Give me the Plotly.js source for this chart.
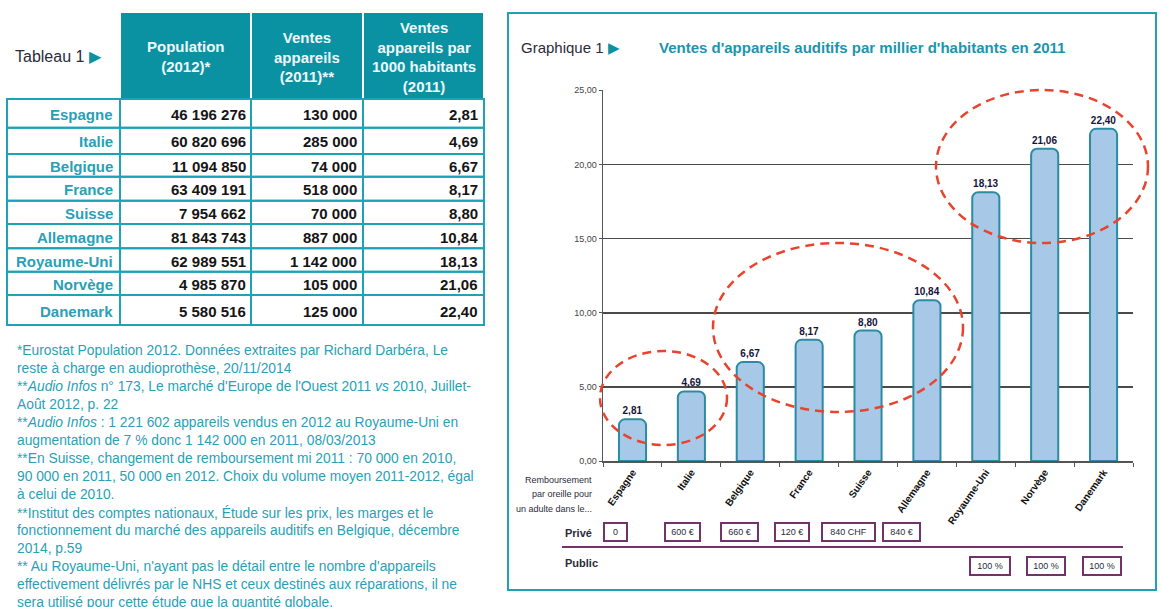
<!DOCTYPE html>
<html>
<head>
<meta charset="utf-8">
<script src="https://cdn.plot.ly/plotly-3.0.1.min.js"></script>
<style>html,body{margin:0;padding:0;background:#fff;}#chart{width:1161px;height:607px;}</style>
</head>
<body>
<div id="chart"></div>
<script>
// ---------- data ----------
const categories = ['Espagne','Italie','Belgique','France','Suisse','Allemagne','Royaume-Uni','Norvège','Danemark'];
const population2012 = [46196276, 60820696, 11094850, 63409191, 7954662, 81843743, 62989551, 4985870, 5580516];
const sales2011 = [130000, 285000, 74000, 518000, 70000, 887000, 1142000, 105000, 125000];
const salesPer1000 = [2.81, 4.69, 6.67, 8.17, 8.80, 10.84, 18.13, 21.06, 22.40];
const privateReimb = ['0','600 €','660 €','120 €','840 CHF','840 €','','',''];
const publicReimb = ['','','','','','','100 %','100 %','100 %'];
const headerLabels = ['Population<br>(2012)*', 'Ventes<br>appareils<br>(2011)**', 'Ventes<br>appareils par<br>1000 habitants<br>(2011)'];
const yTicks = [0, 5, 10, 15, 20, 25];
const noteLines = [
  '*Eurostat Population 2012. Données extraites par Richard Darbéra, Le',
  'reste à charge en audioprothèse, 20/11/2014',
  '**<i>Audio Infos</i> n° 173, Le marché d\'Europe de l\'Ouest 2011 <i>vs</i> 2010, Juillet-',
  'Août 2012, p. 22',
  '**<i>Audio Infos</i> : 1 221 602 appareils vendus en 2012 au Royaume-Uni en',
  'augmentation de 7 % donc 1 142 000 en 2011, 08/03/2013',
  '**En Suisse, changement de remboursement mi 2011 : 70 000 en 2010,',
  '90 000 en 2011, 50 000 en 2012. Choix du volume moyen 2011-2012, égal',
  'à celui de 2010.',
  '**Institut des comptes nationaux, Étude sur les prix, les marges et le',
  'fonctionnement du marché des appareils auditifs en Belgique, décembre',
  '2014, p.59',
  '** Au Royaume-Uni, n\'ayant pas le détail entre le nombre d\'appareils',
  'effectivement délivrés par le NHS et ceux destinés aux réparations, il ne',
  'sera utilisé pour cette étude que la quantité globale.'
];

// ---------- helpers ----------
const W = 1161, H = 607;
const px = x => x / W;
const py = y => 1 - y / H;
function groupThousands(n){ return String(n).replace(/\B(?=(\d{3})+(?!\d))/g, ' '); }
function frDec(n){ return n.toFixed(2).replace('.', ','); }

const TEAL = '#0b92a2';
const TEAL_LINE = '#1ea3b6';
const TEAL_TXT = '#2a9fb6';
const PURPLE = '#72336a';
const SANS = 'Liberation Sans, Arial, sans-serif';

// table geometry (pixels)
const colX = [7, 120, 251, 363, 484];
const rowY = [99, 127.7, 154, 176.7, 200.7, 224, 248.3, 271.7, 295, 325];
const headTop = 13;

// ---------- traces ----------
const bars = {
  type: 'bar',
  x: categories,
  y: salesPer1000,
  marker: {color: '#a8c8e8', line: {color: '#2a8ba2', width: 2}, cornerradius: 6},
  texttemplate: '%{y:.2f}',
  textposition: 'outside',
  cliponaxis: false,
  textfont: {family: SANS, size: 10, color: '#14143a', weight: 'bold'},
  hoverinfo: 'skip'
};

// ---------- shapes ----------
const shapes = [];
// table header fills
for (let c = 1; c < 4; c++) {
  shapes.push({type: 'rect', xref: 'paper', yref: 'paper', x0: px(colX[c] + 1), x1: px(colX[c + 1] - 1),
    y0: py(rowY[0] - 1), y1: py(headTop), fillcolor: TEAL, line: {width: 0}, layer: 'below'});
}
// table body cells
for (let r = 0; r < categories.length; r++) {
  for (let c = 0; c < 4; c++) {
    shapes.push({type: 'rect', xref: 'paper', yref: 'paper', x0: px(colX[c]), x1: px(colX[c + 1]),
      y0: py(rowY[r + 1]), y1: py(rowY[r]), line: {color: TEAL_LINE, width: 2}, layer: 'below'});
  }
}
// chart frame & separator
shapes.push({type: 'rect', xref: 'paper', yref: 'paper', x0: px(508), x1: px(1156), y0: py(590), y1: py(13), line: {color: TEAL_LINE, width: 2}, layer: 'below'});
shapes.push({type: 'line', xref: 'paper', yref: 'paper', x0: px(562), x1: px(1123), y0: py(547), y1: py(547), line: {color: PURPLE, width: 2}});
// highlighting ellipses
const ellipse = (x0, x1, y0, y1) => ({type: 'circle', xref: 'paper', yref: 'paper', x0: px(x0), x1: px(x1), y0: py(y1), y1: py(y0),
  line: {color: '#e8432d', width: 2.5, dash: '9px,6px'}, layer: 'above'});
shapes.push(ellipse(600, 727, 351, 445));
shapes.push(ellipse(713, 963, 243, 412));
shapes.push(ellipse(936, 1148, 90, 243));

// ---------- annotations ----------
const ann = [];
// table header texts
headerLabels.forEach((t, i) => ann.push({
  xref: 'paper', yref: 'paper', x: px((colX[i + 1] + colX[i + 2]) / 2), y: py(57), xanchor: 'center', yanchor: 'middle',
  text: '<b>' + t + '</b>', showarrow: false, align: 'center',
  font: {family: SANS, size: 15, color: '#eef8fa'}
}));
ann.push({xref: 'paper', yref: 'paper', x: px(13), y: py(57), xanchor: 'left', yanchor: 'middle', showarrow: false,
  text: 'Tableau 1 <span style="color:' + TEAL + '">▶</span>', font: {family: SANS, size: 16, color: '#2b2b3a'}});
// table body texts
const colTexts = [
  categories,
  population2012.map(groupThousands),
  sales2011.map(groupThousands),
  salesPer1000.map(frDec)
];
const colPad = [5, 3, 4, 4];
colTexts.forEach((arr, c) => arr.forEach((t, r) => ann.push({
  xref: 'paper', yref: 'paper', x: px(colX[c + 1] - colPad[c]), y: py((rowY[r] + rowY[r + 1]) / 2 + 1),
  xanchor: 'right', yanchor: 'middle', showarrow: false, text: '<b>' + t + '</b>',
  font: {family: SANS, size: 15, color: c === 0 ? TEAL_TXT : '#151515'}
})));
// notes
noteLines.forEach((t, i) => ann.push({
  xref: 'paper', yref: 'paper', x: px(15), y: py(350 + i * 18.07), xanchor: 'left', yanchor: 'middle',
  text: t, showarrow: false, align: 'left', font: {family: SANS, size: 13.8, color: TEAL_TXT}
}));
// chart titles
ann.push({xref: 'paper', yref: 'paper', x: px(519), y: py(47), xanchor: 'left', yanchor: 'middle', showarrow: false,
  text: 'Graphique 1 <span style="color:' + TEAL + '">▶</span>', font: {family: SANS, size: 15, color: '#2b2b3a'}});
ann.push({xref: 'paper', yref: 'paper', x: px(657), y: py(47), xanchor: 'left', yanchor: 'middle', showarrow: false,
  text: '<b>Ventes d\'appareils auditifs par millier d\'habitants en 2011</b>', font: {family: SANS, size: 15, color: '#1b95ad'}});
// row headers under chart
const rembLines = ['Remboursement', 'par oreille pour', 'un adulte dans le...'];
rembLines.forEach((t, i) => ann.push({
  xref: 'paper', yref: 'paper', x: px(594), y: py(480 + i * 14.5), xanchor: 'right', yanchor: 'middle',
  text: t, showarrow: false, font: {family: SANS, size: 9, color: '#2b2b3a'}
}));
ann.push({xref: 'paper', yref: 'paper', x: px(563), y: py(533), xanchor: 'left', yanchor: 'middle', showarrow: false,
  text: '<b>Privé</b>', font: {family: SANS, size: 11, color: '#2b2b3a'}});
ann.push({xref: 'paper', yref: 'paper', x: px(563), y: py(563), xanchor: 'left', yanchor: 'middle', showarrow: false,
  text: '<b>Public</b>', font: {family: SANS, size: 11, color: '#2b2b3a'}});
// reimbursement boxes (anchored to category, small visual shift)
const boxShift = [-17, -9, -11, -17, -20, -25, 4, 1, -2];
const boxW = [17, 29, 31, 28, 47, 31, 34, 32, 32];
function addBoxes(arr, yPix){
  arr.forEach((t, i) => {
    if (!t) return;
    ann.push({xref: 'x', yref: 'paper', x: categories[i], xshift: boxShift[i], y: py(yPix), xanchor: 'center', yanchor: 'middle',
      text: t, showarrow: false, width: boxW[i], height: 12, borderpad: 2, borderwidth: 2, bordercolor: PURPLE, bgcolor: 'white',
      font: {family: SANS, size: 9, color: '#2b2b3a'}});
  });
}
addBoxes(privateReimb, 532);
addBoxes(publicReimb, 565.5);

const layout = {
  width: W, height: H,
  margin: {l: 0, r: 0, t: 0, b: 0},
  paper_bgcolor: 'white', plot_bgcolor: 'white',
  separators: ', ',
  showlegend: false,
  font: {family: SANS},
  bargap: 0.54,
  xaxis: {
    domain: [px(603), px(1133)], type: 'category', anchor: 'y',
    showline: true, linecolor: '#555', linewidth: 1.5,
    ticks: 'outside', tickson: 'boundaries', ticklen: 4, tickcolor: '#555', tickwidth: 1,
    tickangle: -55, tickfont: {family: SANS, size: 10, color: '#111', weight: 'bold'},
    showgrid: false, fixedrange: true
  },
  yaxis: {
    domain: [py(461), py(90)], anchor: 'x', range: [0, 25.02],
    tickvals: yTicks, tickformat: '.2f',
    showgrid: true, gridcolor: '#4a4a4a', gridwidth: 1.6,
    showline: true, linecolor: '#555', linewidth: 1.5,
    ticks: 'outside', ticklen: 3, tickcolor: '#555',
    tickfont: {family: SANS, size: 9, color: '#444'}, zeroline: false, fixedrange: true
  },
  shapes: shapes,
  annotations: ann
};

Plotly.newPlot('chart', [bars], layout, {staticPlot: true, displayModeBar: false});
</script>
</body>
</html>
